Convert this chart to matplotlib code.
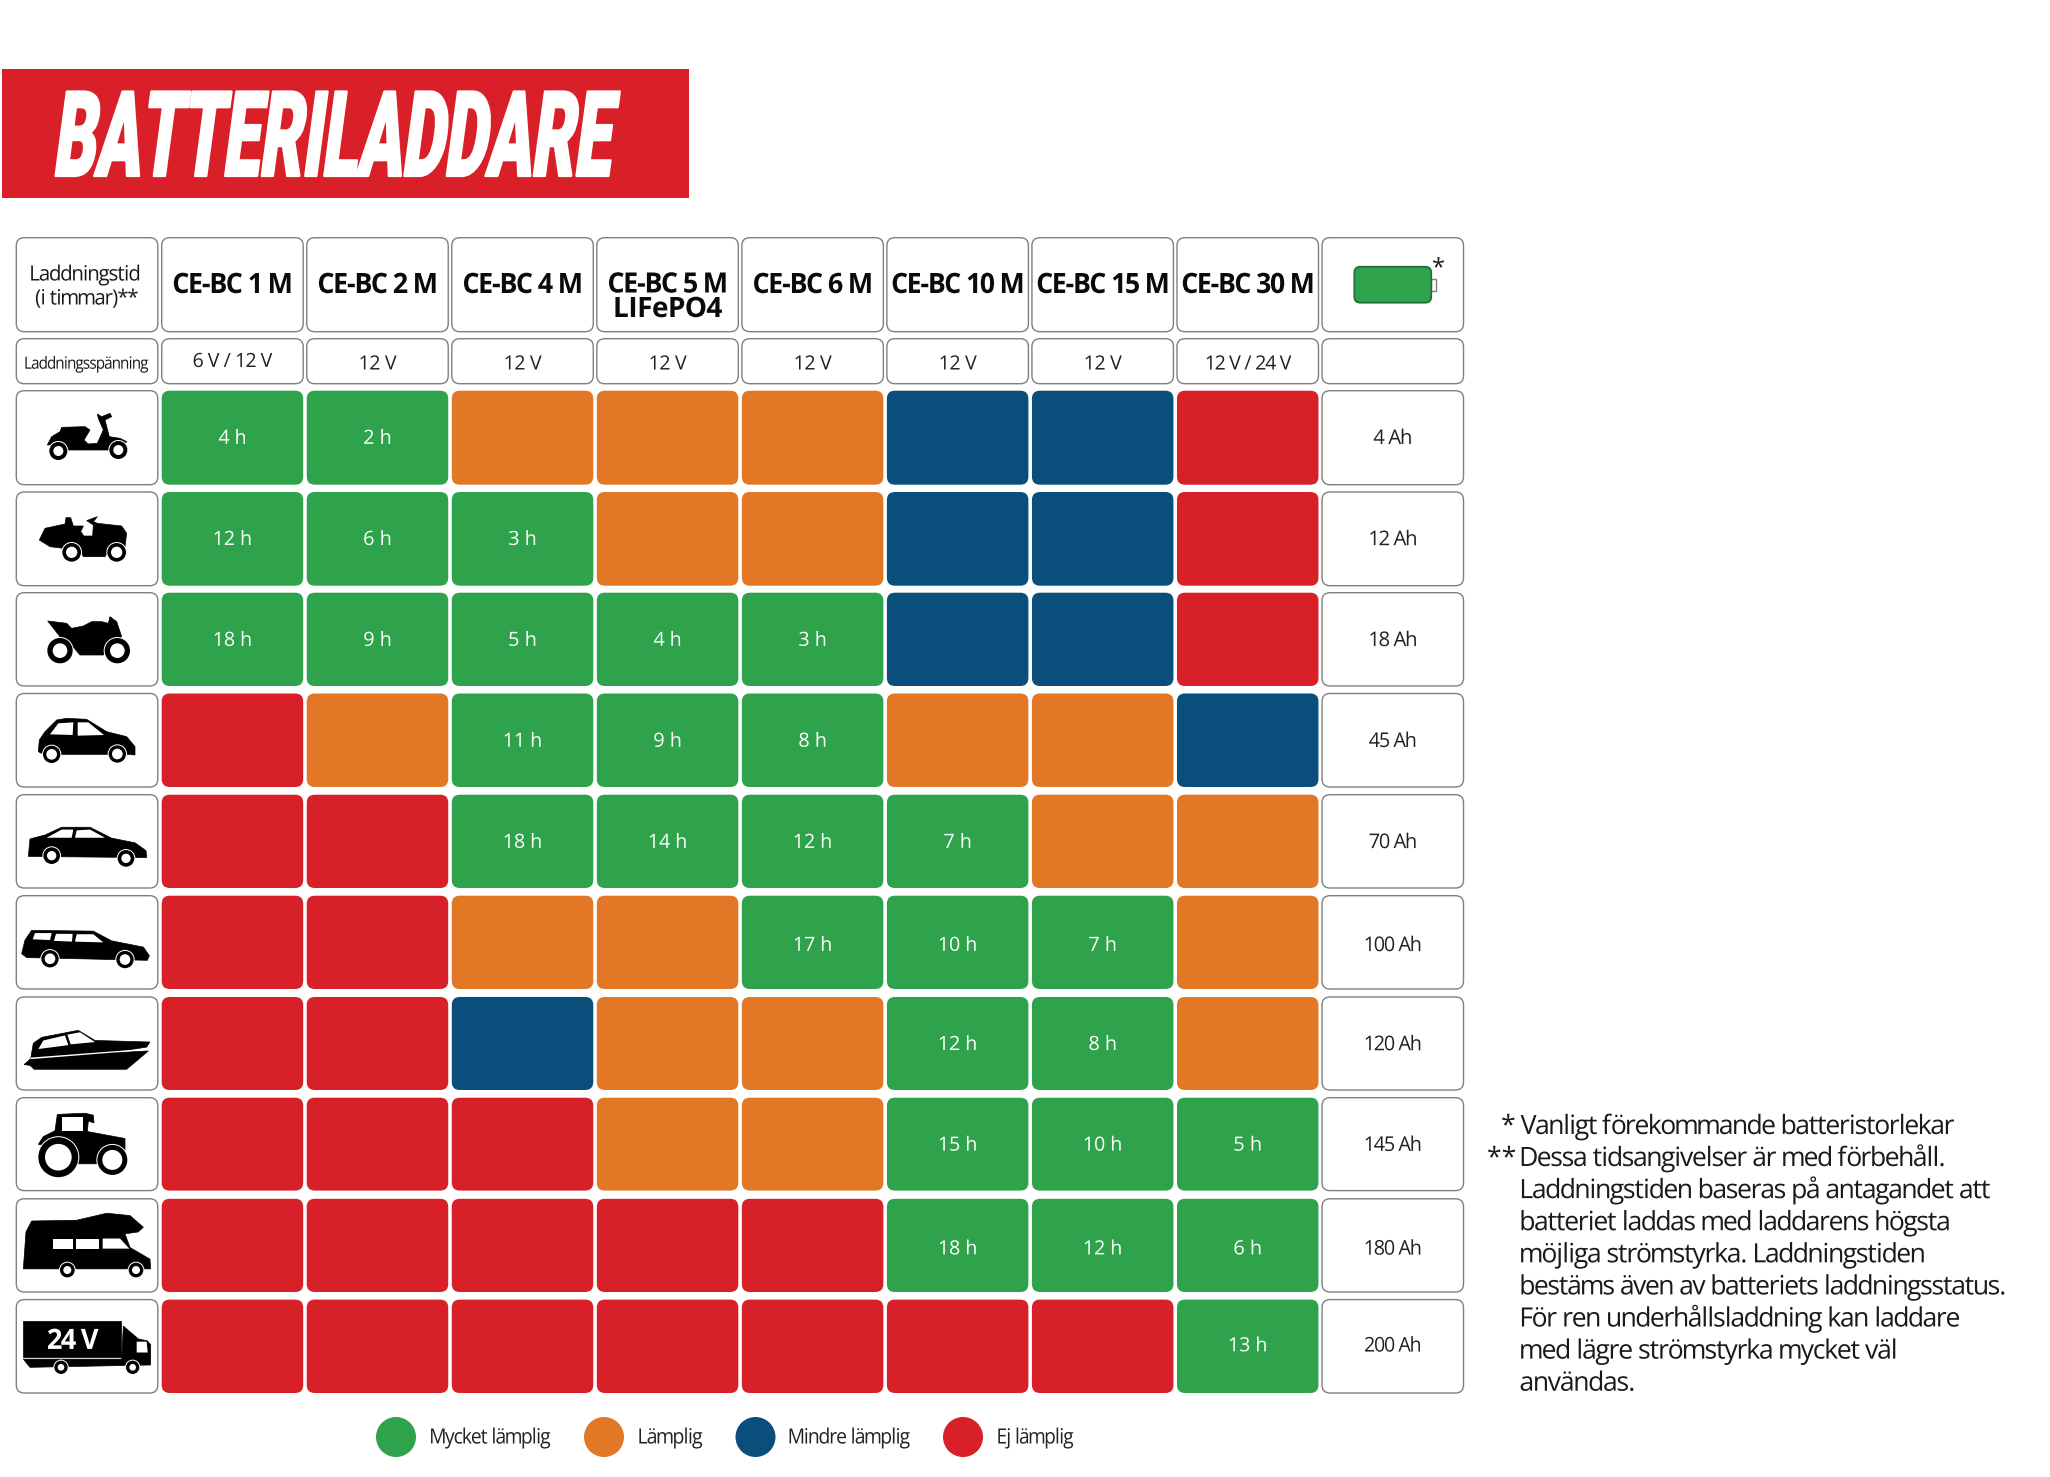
import matplotlib
matplotlib.use("Agg")
import numpy as np
import matplotlib.pyplot as plt
from matplotlib.patches import FancyBboxPatch, Rectangle, Circle, Polygon
from matplotlib.patheffects import AbstractPathEffect
from matplotlib.path import Path
from matplotlib.textpath import TextPath
from matplotlib.font_manager import FontProperties
from matplotlib.transforms import Affine2D, IdentityTransform

# ---------- data ----------
TITLE = "BATTERILADDARE"
MODELS = ["CE-BC 1 M", "CE-BC 2 M", "CE-BC 4 M", "CE-BC 5 M\nLIFePO4", "CE-BC 6 M",
          "CE-BC 10 M", "CE-BC 15 M", "CE-BC 30 M"]
VOLTAGES = ["6 V / 12 V", "12 V", "12 V", "12 V", "12 V", "12 V", "12 V", "12 V / 24 V"]
CAPACITIES = ["4 Ah", "12 Ah", "18 Ah", "45 Ah", "70 Ah", "100 Ah", "120 Ah", "145 Ah", "180 Ah", "200 Ah"]
VEHICLES = ["scooter", "mower", "motorbike", "hatch", "sedan", "wagon", "boat", "tractor", "camper", "truck"]
# O = lämplig, B = mindre lämplig, R = ej lämplig, text = mycket lämplig + laddningstid
GRID = [
    ["4 h", "2 h", "O", "O", "O", "B", "B", "R"],
    ["12 h", "6 h", "3 h", "O", "O", "B", "B", "R"],
    ["18 h", "9 h", "5 h", "4 h", "3 h", "B", "B", "R"],
    ["R", "O", "11 h", "9 h", "8 h", "O", "O", "B"],
    ["R", "R", "18 h", "14 h", "12 h", "7 h", "O", "O"],
    ["R", "R", "O", "O", "17 h", "10 h", "7 h", "O"],
    ["R", "R", "B", "O", "O", "12 h", "8 h", "O"],
    ["R", "R", "R", "O", "O", "15 h", "10 h", "5 h"],
    ["R", "R", "R", "R", "R", "18 h", "12 h", "6 h"],
    ["R", "R", "R", "R", "R", "R", "R", "13 h"],
]
LEGEND = ["Mycket lämplig", "Lämplig", "Mindre lämplig", "Ej lämplig"]
NOTE1 = "Vanligt förekommande batteristorlekar"
NOTE2 = ["Dessa tidsangivelser är med förbehåll.",
         "Laddningstiden baseras på antagandet att",
         "batteriet laddas med laddarens högsta",
         "möjliga strömstyrka. Laddningstiden",
         "bestäms även av batteriets laddningsstatus.",
         "För ren underhållsladdning kan laddare",
         "med lägre strömstyrka mycket väl",
         "användas."]

# ---------- style ----------
GREEN, ORANGE, BLUE, RED = "#2EA34B", "#E27726", "#0A4F7C", "#D72028"
COL = {"O": ORANGE, "B": BLUE, "R": RED}
EDGE = "#808080"
INK = "#1a1a1a"
FONT = "Open Sans"

fig = plt.figure(figsize=(20.5, 14.77), dpi=100, facecolor="white")
ax = fig.add_axes([0, 0, 1, 1])
ax.set_xlim(0, 2050)
ax.set_ylim(1477, 0)
ax.axis("off")

COL_X = [16.3] + [161.7 + 145.04 * i for i in range(9)]
COL_W = 141.5
ROW_T = [390.7, 492, 592.7, 693.5, 794.7, 895.7, 997, 1097.7, 1198.8, 1299.6]
ROW_B = [484.7, 585.7, 686, 787, 888, 989, 1090, 1190.6, 1292, 1393]
ROW_DY = [-0.4, -0.4, 0, 0, 0, 2, 0, 0, 2.5, -1.5]


def widen_glyphs(verts, codes, g):
    """Widen each glyph about its own centre, leaving its position: tighter tracking."""
    starts = np.flatnonzero(codes == Path.MOVETO)
    ends = np.append(starts[1:], len(codes))
    spans = sorted((verts[s:e, 0].min(), verts[s:e, 0].max(), s, e) for s, e in zip(starts, ends))
    out = verts.copy()
    group, gmin, gmax = [], None, None

    def flush():
        if group:
            c = (gmin + gmax) / 2
            for s, e in group:
                out[s:e, 0] = c + (verts[s:e, 0] - c) * g

    for x0, x1, s, e in spans:
        if group and x0 < gmax - 0.5:
            group.append((s, e))
            gmax = max(gmax, x1)
        else:
            flush()
            group, gmin, gmax = [(s, e)], x0, x1
    flush()
    return out


class Warp(AbstractPathEffect):
    """Stretch, slant, embolden or tighten a text about an anchor in data space."""
    def __init__(self, anchor, sx=1.0, sy=1.0, skew=0.0, bold=0.0, glyph=1.0):
        super().__init__()
        self.anchor, self.sx, self.sy, self.skew, self.bold, self.glyph = anchor, sx, sy, skew, bold, glyph

    def draw_path(self, renderer, gc, tpath, affine, rgbFace=None):
        x, y = ax.transData.transform(self.anchor)
        a = affine + (Affine2D().translate(-x, -y).scale(self.sx, self.sy)
                      .skew_deg(self.skew, 0).translate(x, y))
        v = a.transform(tpath.vertices)
        if self.glyph != 1.0 and tpath.codes is not None and len(v):
            v = widen_glyphs(v, tpath.codes, self.glyph)
        g = renderer.new_gc()
        g.copy_properties(gc)
        if self.bold:
            g.set_linewidth(self.bold)
            g.set_foreground(rgbFace)
        else:
            g.set_linewidth(0)
        renderer.draw_path(g, Path(v, tpath.codes), IdentityTransform(), rgbFace)
        g.restore()


def label(x, y, s, width, cap, color=INK, weight="regular", ha="center", bold=0.0, family=FONT, tight=1.12):
    """Text centred on y with the given cap height; the font size gives the wanted width."""
    size = cap / 0.714 * 0.72  # points at 100 dpi
    fp = FontProperties(family=family, weight=weight, size=size)
    w = TextPath((0, 0), s, prop=fp).get_extents().width * 100 / 72
    fit = width / w if width else 1.0
    fp.set_size(size * fit)
    glyph = min(1 / fit, tight) if fit < 1 else 1.0
    base = y + cap / 2
    t = ax.text(x, base, s, fontproperties=fp, color=color, ha=ha, va="baseline", zorder=6)
    t.set_path_effects([Warp((x, base), sy=1 / fit, bold=bold, glyph=glyph)])
    return t


def box(x, y0, y1, face="white", edge=EDGE, w=COL_W):
    ax.add_patch(FancyBboxPatch((x, y0), w, y1 - y0, boxstyle="round,pad=0,rounding_size=8",
                                fc=face, ec=edge, lw=1.0 if edge != "none" else 0, zorder=2))


# ---------- icons (traced silhouettes, in zoom-space units) ----------
ICONS = {
    "scooter": dict(o=390, sy=3, body=[[(112,165),(125,140),(150,125),(155,112),(225,110),(240,120),(222,150),(235,162),(262,160),(280,120),(265,85),(262,72),(275,80),(300,70),(305,80),(285,90),(298,140),(330,145),(350,155),(345,160),(310,155),(295,180),(175,180),(160,165),(125,165)]],
                    win=[], wheels=[(145,183,27,15),(325,180,27,15)]),
    "mower": dict(o=390, sy=3, body=[[(88,450),(105,415),(165,402),(168,383),(182,383),(190,408),(220,408),(212,425),(222,438),(248,438),(250,405),(230,392),(262,380),(250,395),(262,400),(335,408),(350,430),(345,470),(310,462),(285,500),(220,500),(205,470),(160,475),(120,470)]],
                  win=[], wheels=[(185,487,28,17),(320,487,28,17)]),
    "motorbike": dict(o=390, sy=3, body=[[(113,693),(170,700),(185,715),(220,708),(245,695),(275,695),(295,700),(300,680),(320,695),(335,740),(300,760),(280,795),(210,795),(180,760),(150,740)]],
                      win=[], wheels=[(150,782,38,22),(322,782,38,22)]),
    "hatch": dict(o=390, sy=3, body=[[(85,1085),(88,1050),(105,1025),(140,990),(170,985),(230,988),(290,1025),(350,1040),(375,1070),(375,1095),(350,1093),(100,1093)]],
                  win=[[(120,1033),(145,1000),(190,997),(188,1035)],[(203,997),(235,997),(282,1035),(203,1037)]],
                  wheels=[(125,1093,26,16),(322,1092,26,16)]),
    "sedan": dict(o=800, sy=2.57, body=[[(55,145),(60,100),(105,90),(155,70),(240,70),(305,98),(375,110),(408,130),(410,148)]],
                  win=[[(110,97),(155,76),(190,76),(185,97)],[(195,97),(200,78),(240,76),(285,97)]],
                  wheels=[(125,143,25,14),(348,150,25,14)]),
    "wagon": dict(o=800, sy=2.57, body=[[(35,395),(45,360),(65,335),(250,337),(305,362),(400,378),(418,400),(412,412),(50,405)]],
                  win=[[(68,358),(75,342),(125,342),(120,360)],[(132,362),(138,344),(188,344),(186,364)],[(195,364),(200,345),(250,345),(280,366)]],
                  wheels=[(120,408,26,16),(345,410,26,16)]),
    "boat": dict(o=800, sy=2.57, body=[[(42,680),(62,665),(70,625),(95,610),(205,592),(255,618),(420,622),(410,635),(300,650),(415,645),(350,692),(72,692),(60,682)]],
                 win=[[(85,640),(100,618),(165,605),(175,630)],[(182,628),(172,603),(210,597),(255,622)],[(62,662),(400,640),(400,643),(62,666)]],
                 wheels=[]),
    "tractor": dict(o=800, sy=2.57, body=[[(85,885),(100,865),(135,850),(142,808),(225,805),(250,810),(252,830),(235,825),(232,852),(345,870),(345,900),(300,900),(260,935),(200,935),(190,900)]],
                    win=[[(155,815),(220,815),(220,850),(155,850)]],
                    wheels=[(145,918,60,40),(307,925,45,30)]),
    "camper": dict(o=800, sy=2.57, body=[[(40,1205),(48,1110),(65,1082),(200,1080),(290,1062),(360,1068),(400,1098),(385,1110),(345,1115),(360,1150),(420,1180),(422,1205)]],
                   win=[[(130,1127),(188,1127),(188,1153),(130,1153)],[(198,1127),(268,1127),(268,1153),(198,1153)],[(278,1127),(330,1127),(358,1153),(278,1153)]],
                   wheels=[(172,1208,22,12),(378,1208,22,12)]),
    "truck": dict(o=800, sy=2.57, body=[[(40,1340),(332,1340),(332,1432),(40,1432)],[(40,1437),(335,1437),(340,1352),(385,1385),(412,1390),(422,1400),(422,1452),(60,1458)]],
                  win=[[(380,1392),(410,1392),(413,1420),(380,1420)]],
                  wheels=[(153,1458,20,10),(368,1458,20,10)]),
}


def draw_icon(name):
    ic = ICONS[name]
    to = lambda p: (10 + p[0] / 3, ic["o"] + p[1] / ic["sy"])
    for poly in ic["body"]:
        ax.add_patch(Polygon([to(p) for p in poly], closed=True, fc="black", ec="black", lw=0.5, zorder=3))
    for poly in ic["win"]:
        ax.add_patch(Polygon([to(p) for p in poly], closed=True, fc="white", ec="none", zorder=4))
    for zx, zy, r, ri in ic["wheels"]:
        c = to((zx, zy))
        ax.add_patch(Circle(c, r / 3 + 1, fc="white", ec="none", zorder=4))
        ax.add_patch(Circle(c, r / 3, fc="black", ec="none", zorder=5))
        ax.add_patch(Circle(c, ri / 3, fc="white", ec="none", zorder=5))


# ---------- title ----------
ax.add_patch(Rectangle((1.5, 69), 687, 128.7, fc="#D92028", ec="none", zorder=1))
title_fp = FontProperties(family="Roboto", weight="black", size=60)
nat = TextPath((0, 0), TITLE, prop=title_fp).get_extents().width * 100 / 72
title_fp.set_size(60 * 553 / nat)
cap_px = TextPath((0, 0), "B", prop=title_fp).get_extents().height * 100 / 72
t = ax.text(52, 176, TITLE, fontproperties=title_fp, color="white", ha="left", va="baseline", zorder=3)
t.set_path_effects([Warp((52, 176), sy=84.5 / cap_px, skew=7.6, bold=1.6)])

# ---------- header rows ----------
HEAD_T, HEAD_B = 237.7, 331.7
VOLT_T, VOLT_B = 338.7, 383.7
box(COL_X[0], HEAD_T, HEAD_B)
box(COL_X[0], VOLT_T, VOLT_B)
label(85, 273, "Laddningstid", 107, 15)
label(86.5, 297, "(i timmar)**", 101, 15)
label(86.5, 362.7, "Laddningsspänning", 122, 12)

VOLT_W = [78, 36, 36, 36, 36, 36, 36, 84]
for i, (m, v) in enumerate(zip(MODELS, VOLTAGES)):
    x = COL_X[i + 1]
    box(x, HEAD_T, HEAD_B)
    box(x, VOLT_T, VOLT_B)
    cx = x + COL_W / 2
    lines = m.split("\n")
    w1 = 115 if len(lines[0]) == 9 else 128
    if len(lines) == 2:
        label(cx, 282.5, lines[0], w1, 20, color="#0a0a0a", weight="bold", tight=1.1)
        label(cx, 307, lines[1], 106, 20, color="#0a0a0a", weight="bold", tight=1.1)
    else:
        label(cx, 283, lines[0], w1, 20, color="#0a0a0a", weight="bold", tight=1.1)
    label(cx, 360 if i == 0 else 362.5, v, VOLT_W[i], 14, color="#222222")

box(COL_X[9], HEAD_T, HEAD_B)
box(COL_X[9], VOLT_T, VOLT_B)
# battery symbol
ax.add_patch(Rectangle((1431.3, 279), 4.4, 11.7, fc="white", ec=EDGE, lw=1, zorder=3))
ax.add_patch(FancyBboxPatch((1354.3, 266.7), 77, 36, boxstyle="round,pad=0,rounding_size=6",
                            fc=GREEN, ec="#1f6b36", lw=1.2, zorder=3))
ax.text(1438, 274, "*", fontsize=17, family=FONT, color=INK, ha="center", va="baseline", zorder=4)

# ---------- grid ----------
for r, row in enumerate(GRID):
    t0, t1 = ROW_T[r], ROW_B[r]
    cy = (t0 + t1) / 2 + ROW_DY[r]
    box(COL_X[0], t0, t1)
    draw_icon(VEHICLES[r])
    for c, val in enumerate(row):
        x = COL_X[c + 1]
        face = COL.get(val, GREEN)
        box(x, t0, t1, face=face, edge="none")
        if val not in COL:
            w = 26 if len(val) == 3 else 36
            label(x + COL_W / 2, cy - 0.5, val, w, 14, color="white")
    box(COL_X[9], t0, t1)
    cap_s = CAPACITIES[r]
    label(COL_X[9] + COL_W / 2, cy - 0.5, cap_s, {4: 36, 5: 45, 6: 54}[len(cap_s)], 14.5, color="#222222")

# "24 V" inside the truck icon
label(10 + 188 / 3, 800 + 1385 / 2.57, "24 V", 49, 20, color="white", weight="bold")

# ---------- legend ----------
LEG_CX = [396, 604, 755.5, 963]
LEG_TX = [430, 638, 788.5, 997]
LEG_W = [118, 62, 119, 74]
for name, col, cx, tx, w in zip(LEGEND, [GREEN, ORANGE, BLUE, RED], LEG_CX, LEG_TX, LEG_W):
    ax.add_patch(Circle((cx, 1437), 20, fc=col, ec="none", zorder=3))
    label(tx, 1436, name, w, 15, color="#222222", ha="left")

# ---------- notes ----------
NOTE_W = [421, 467, 426, 401, 482, 436, 373, 112]
label(1521.5, 1124.5, NOTE1, 432, 19, ha="left")
label(1501, 1124.5, "*", 0, 19, ha="left")
label(1487, 1156.5, "**", 0, 19, ha="left")
for i, (s, w) in enumerate(zip(NOTE2, NOTE_W)):
    label(1520, 1156.5 + 32.1 * i, s, w, 19, ha="left")

fig.savefig("out.png", dpi=100, facecolor="white")
